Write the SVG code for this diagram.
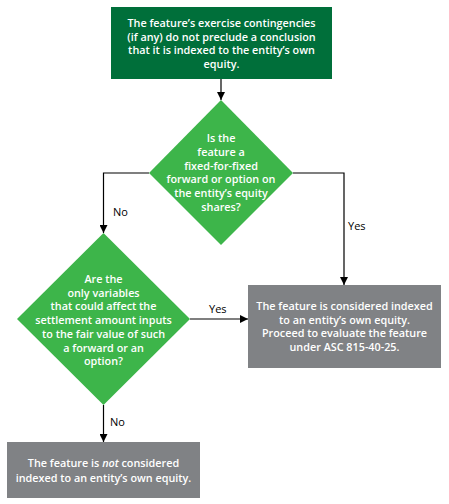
<svg xmlns="http://www.w3.org/2000/svg" width="449" height="504" viewBox="0 0 449 504">
<style>
.t{font-family:"Open Sans","Liberation Sans",sans-serif;font-size:10.8px;font-weight:600;fill:#fff;text-anchor:middle}
.l{font-family:"Open Sans","Liberation Sans",sans-serif;font-size:11px;fill:#000}
.c{fill:none;stroke:#000;stroke-width:1.2}
.dark{fill:#006f3a}
.green{fill:#3db54a}
.gray{fill:#808285}
</style>
<defs>
<marker id="ah" viewBox="0 0 10 10" refX="10" refY="5" markerWidth="8" markerHeight="8" markerUnits="userSpaceOnUse" orient="auto">
<path d="M0,0 L10,5 L0,10 z" fill="#000"/>
</marker>
</defs>
<rect width="449" height="504" fill="#fff"/>
<g id="start">
<rect class="dark" x="111" y="7" width="221" height="72"/>
<text class="t" x="221.5" y="27">The feature’s exercise contingencies</text>
<text class="t" x="221.5" y="40.7">(if any) do not preclude a conclusion</text>
<text class="t" x="221.5" y="54.4">that it is indexed to the entity’s own</text>
<text class="t" x="221.5" y="68.1">equity.</text>
</g>
<g id="q1">
<polygon class="green" points="221,100 293,173 221,245 149,173"/>
<text class="t" x="221" y="142">Is the</text>
<text class="t" x="221" y="155.8">feature a</text>
<text class="t" x="221" y="169.6">fixed-for-fixed</text>
<text class="t" x="221" y="183.4">forward or option on</text>
<text class="t" x="221" y="197.2">the entity’s equity</text>
<text class="t" x="221" y="211">shares?</text>
</g>
<g id="q2">
<polygon class="green" points="103.5,233 190,319 103.5,405 17,319"/>
<text class="t" x="103.5" y="283">Are the</text>
<text class="t" x="103.5" y="296.7">only variables</text>
<text class="t" x="103.5" y="310.4">that could affect the</text>
<text class="t" x="103.5" y="324.1">settlement amount inputs</text>
<text class="t" x="103.5" y="337.8">to the fair value of such</text>
<text class="t" x="103.5" y="351.5">a forward or an</text>
<text class="t" x="103.5" y="365.2">option?</text>
</g>
<g id="indexed">
<rect class="gray" x="248" y="285" width="193" height="83"/>
<text class="t" x="344.5" y="310">The feature is considered indexed</text>
<text class="t" x="344.5" y="323.7">to an entity’s own equity.</text>
<text class="t" x="344.5" y="337.4">Proceed to evaluate the feature</text>
<text class="t" x="344.5" y="351.1">under ASC 815-40-25.</text>
</g>
<g id="notindexed">
<rect class="gray" x="7" y="442" width="193" height="56"/>
<text class="t" x="103.5" y="467">The feature is <tspan font-style="italic">not</tspan> considered</text>
<text class="t" x="103.5" y="482">indexed to an entity’s own equity.</text>
</g>
<g id="connectors">
<path class="c" d="M221,79 V100" marker-end="url(#ah)"/>
<path class="c" d="M149,173 H103.5 V233" marker-end="url(#ah)"/>
<path class="c" d="M293,173 H344 V285" marker-end="url(#ah)"/>
<path class="c" d="M190,319 H248" marker-end="url(#ah)"/>
<path class="c" d="M103.5,405 V442" marker-end="url(#ah)"/>
<text class="l" x="113" y="216">No</text>
<text class="l" x="348" y="230">Yes</text>
<text class="l" x="209" y="313">Yes</text>
<text class="l" x="110" y="426">No</text>
</g>
</svg>
